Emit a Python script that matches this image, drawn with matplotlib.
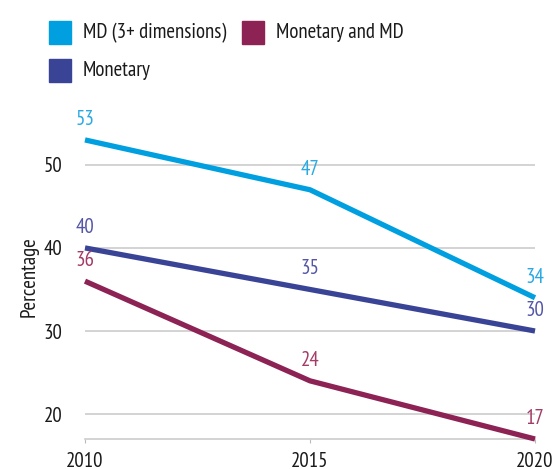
import matplotlib
matplotlib.use("Agg")
import matplotlib.pyplot as plt
from matplotlib.patches import Rectangle

plt.rcParams['font.family'] = ['PT Sans Narrow', 'DejaVu Sans']

years = [2010, 2015, 2020]
md = [53, 47, 34]
monetary = [40, 35, 30]
mon_md = [36, 24, 17]
series_names = ["MD (3+ dimensions)", "Monetary", "Monetary and MD"]
line_colors = ["#009FE0", "#3A4496", "#8C2354"]
label_colors = ["#2AA9E3", "#5456A8", "#A33C68"]
yticks = [20, 30, 40, 50]

FS = 15
fig = plt.figure(figsize=(5.57, 4.69), dpi=100)
ax = fig.add_axes([85/557, 1-439/469, 450/557, (439-115)/469])
ax.set_xlim(2010, 2020)
ax.set_ylim(17, 56)

for vals, lc, tc in zip([md, monetary, mon_md], line_colors, label_colors):
    ax.plot(years, vals, color=lc, lw=3.8, solid_capstyle='butt', clip_on=False, zorder=3)
    for x, v in zip(years, vals):
        ax.annotate(str(v), (x, v), xytext=(0, 8), textcoords='offset points',
                    ha='center', va='bottom', color=tc, fontsize=FS, clip_on=False)

ax.set_yticks(yticks)
ax.set_xticks(years)
ax.grid(axis='y', color='#CCCCCC', lw=1.2)
ax.set_axisbelow(True)
for s in ['top', 'right', 'left']:
    ax.spines[s].set_visible(False)
ax.spines['bottom'].set_color('#CCCCCC')
ax.spines['bottom'].set_linewidth(1.2)
ax.tick_params(axis='y', length=0, pad=16, labelsize=FS, labelcolor='#1a1a1a')
ax.tick_params(axis='x', length=3, color='#BBBBBB', pad=6, labelsize=FS, labelcolor='#1a1a1a')
ax.set_ylabel("Percentage", fontsize=FS, color='#1a1a1a', labelpad=4)

# legend
W, H = 557, 469
entries = [(49, 21, 0), (242, 21, 2), (49, 59, 1)]
for x, y, i in entries:
    fig.add_artist(Rectangle((x/W, 1-(y+23)/H), 22/W, 23/H, color=line_colors[i],
                             transform=fig.transFigure))
    fig.text((x+34)/W, 1-(y+11.5)/H, series_names[i], fontsize=FS, va='center',
             ha='left', color='#1a1a1a')

fig.savefig("out.png", dpi=100)
